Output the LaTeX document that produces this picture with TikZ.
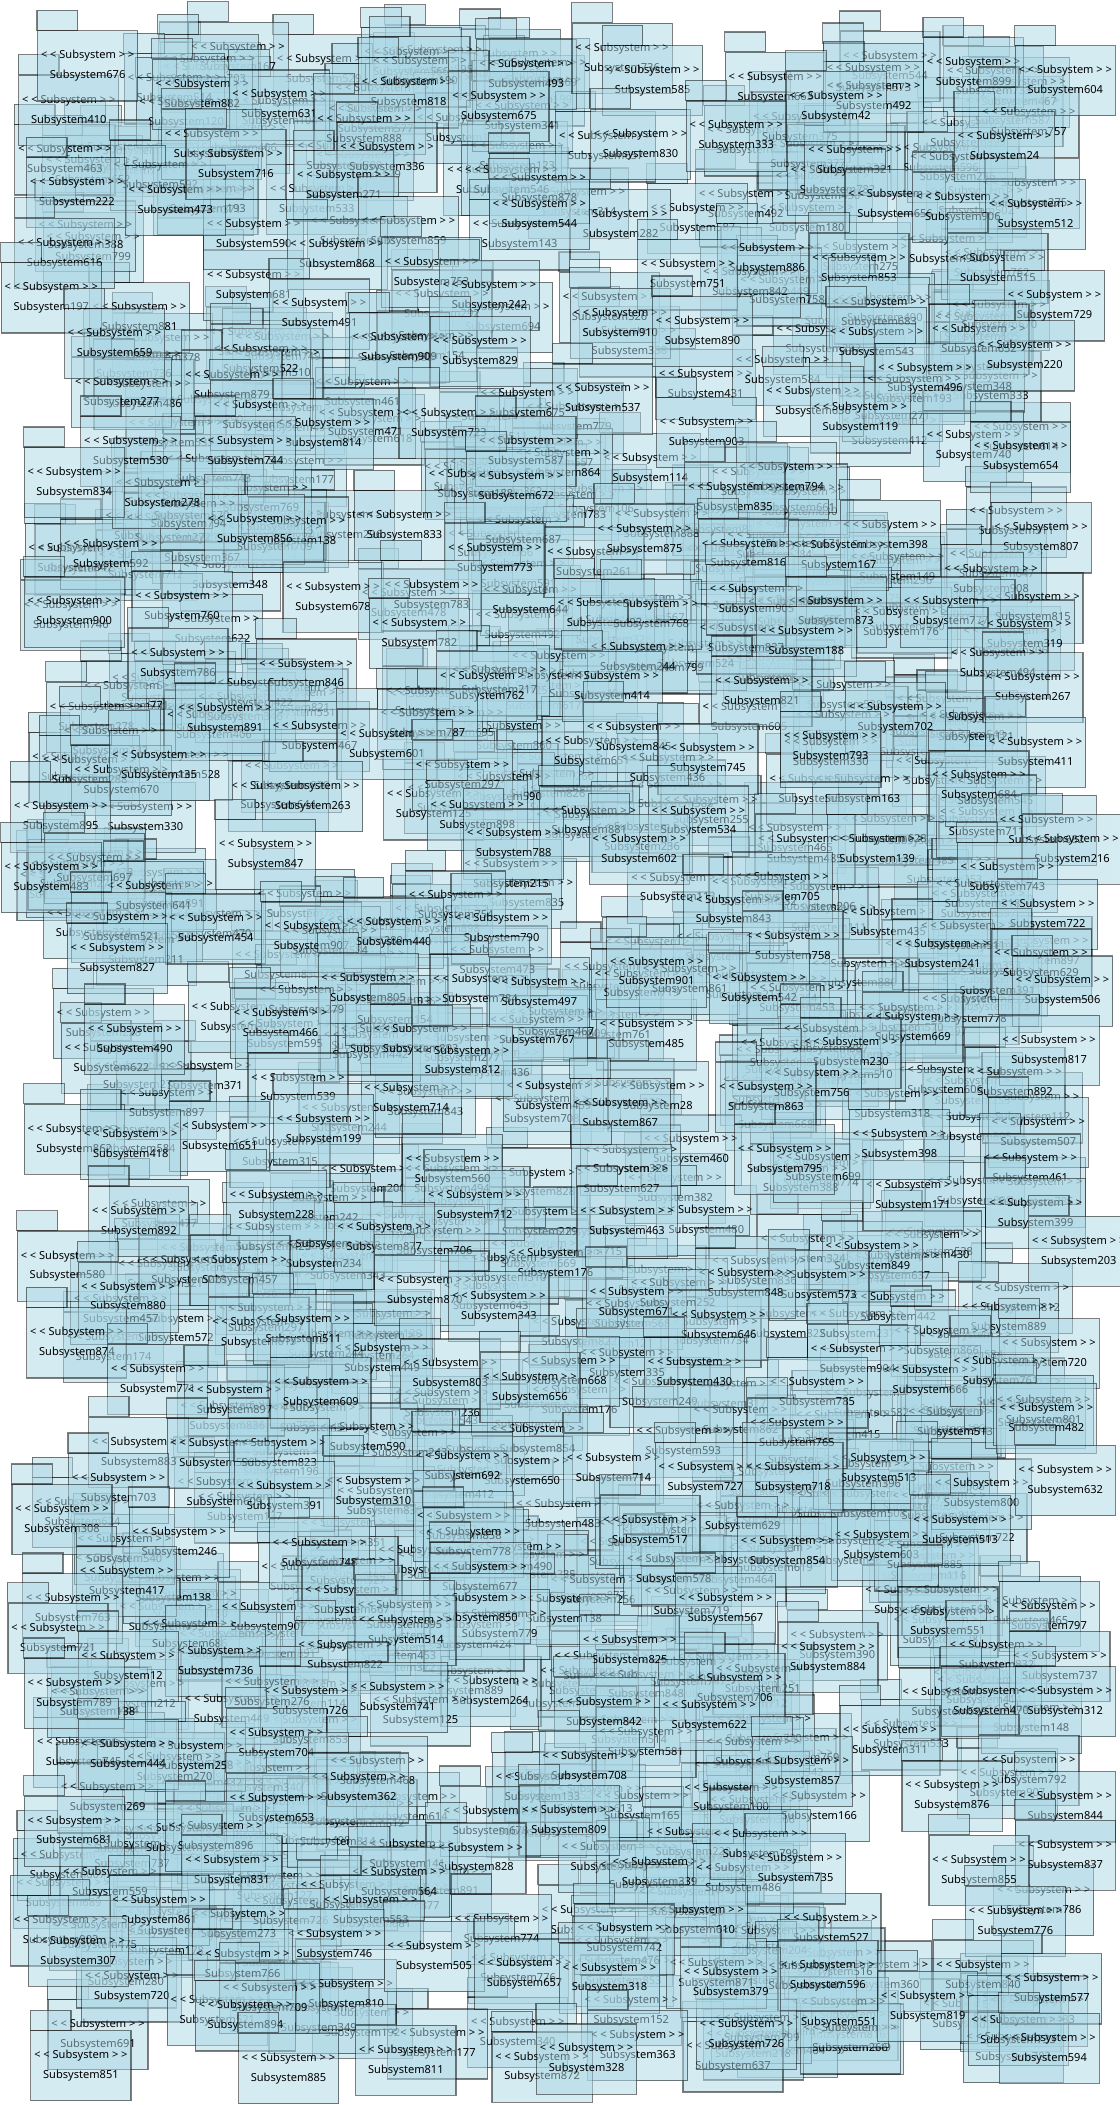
\documentclass[tikz,border=0pt]{standalone}
\usepackage{fontspec}
\setmainfont{Noto Sans}
\definecolor{pkgfill}{HTML}{ADD8E6}
\def\pkgwidth{74.2}
\def\pkgheight{52}
\def\tabwidth{30.2}
\def\tabheight{14.8}
\def\stereo{< < Subsystem > >}
\tikzset{
  pkg/.style={draw=black, draw opacity=0.5, line width=0.85pt, fill=pkgfill,
    fill opacity=0.5, text opacity=1, minimum width=\pkgwidth pt,
    minimum height=\pkgheight pt, inner sep=0pt, align=center,
    font=\fontsize{8.2}{14.8}\selectfont},
  pkgtab/.style={draw=black, draw opacity=0.5, line width=0.85pt,
    fill=pkgfill, fill opacity=0.5}
}
\begin{document}
\begin{tikzpicture}[x=1pt,y=-1pt]
  \fill[white] (0,0) rectangle (830,1561);
  \useasboundingbox (0,0) rectangle (830,1561);
  \pgfmathsetseed{4711}
  \foreach \i in {1,...,620} {
    \pgfmathsetmacro\bx{45+730*rnd}
    \pgfmathsetmacro\by{50+1485*rnd}
    \pgfmathrandominteger{\bn}{100}{910}
    \node[pkg] (b\i) at (\bx,\by-8.1) {\stereo\\Subsystem\bn};
    \draw[pkgtab] (b\i.north west) rectangle ++(\tabwidth,-\tabheight);
  }
  \foreach \nx/\ny/\num in {65/57/676,150/78/882,207/86/631,303/77/818,370/87/675,
      484/68/585,575/73/663,648/80/492,722/62/899,763/99/757,790/68/604,
      157/115/772,270/104/888,287/125/336,475/115/830,546/109/333,620/87/42,
      57/151/222,130/157/473,175/130/716,255/146/271,400/148/878,400/167/544,
      714/162/906,768/167/512,745/117/24,48/196/616,38/229/197,303/180/859,
      250/197/868,320/210/753,569/200/886,637/207/853,740/207/515,237/241/491,
      363/227/242,510/212/751,460/248/910,521/254/890,652/240/683,782/235/729,
      85/263/659,296/266/909,356/269/829,650/262/543,726/260/652,760/272/220,
      172/294/879,447/304/537,603/306/636,686/289/496,638/318/119,193/316/502,
      240/330/814,333/322/723,524/329/903,97/343/530,182/343/744,390/343/587,
      757/347/654,55/366/834,383/369/672,583/362/794,545/377/835,189/401/856,
      300/398/833,478/408/875,772/407/807,55/462/900,135/458/760,247/451/678,
      367/422/773,320/450/783,555/419/816,622/420/167,561/453/905,620/462/873,
      735/438/908,766/459/815,483/464/768,705/462/777,311/478/782,473/496/244,
      760/479/319,132/500/786,227/508/846,361/517/762,454/517/414,598/484/188,
      740/500/494,766/518/267,565/521/821,167/541/891,317/545/787,237/554/467,
      287/560/601,664/540/702,616/562/793,470/555/845,525/571/745,768/566/411,
      90/587/670,118/576/135,232/599/263,343/583/297,354/613/898,437/617/881,
      518/617/534,726/591/684,45/614/895,197/642/847,381/634/788,474/638/602,
      776/624/682,795/638/216,70/652/697,38/659/483,747/659/743,580/666/705,
      114/673/641,338/680/754,544/683/843,777/686/722,90/696/521,160/697/454,
      231/703/907,292/700/440,372/697/790,588/710/758,87/719/827,487/729/901,
      563/741/542,699/716/241,772/723/629,356/742/784,400/744/497,788/743/506,
      273/741/805,100/779/490,208/767/466,312/779/893,616/779/887,677/770/669,
      778/787/817,631/789/230,343/795/812,221/815/539,602/812/756,488/821/28,
      568/822/863,460/834/867,163/851/651,240/846/199,55/853/862,97/857/418,
      770/848/507,667/857/398,582/868/795,461/883/627,764/875/461,205/902/228,
      352/902/712,103/914/892,285/926/877,465/914/463,768/908/399,800/936/203,
      50/947/580,95/970/880,178/950/457,315/965/870,553/960/848,472/974/671,
      533/991/646,748/985/889,370/977/343,57/1004/874,192/996/619,225/994/511,
      698/1003/866,778/1012/720,117/1031/771,334/1027/803,422/1025/668,
      515/1026/430,636/1016/904,690/1032/666,742/1025/761,174/1047/897,
      238/1041/609,393/1037/656,606/1041/785,774/1054/801,591/1071/765,
      103/1085/883,161/1086/508,207/1086/823,776/1060/482,455/1097/714,
      343/1096/692,523/1104/727,588/1104/718,728/1116/800,790/1106/632,
      88/1112/703,277/1114/310,211/1118/391,46/1135/308,344/1140/858,
      482/1143/517,351/1152/778,133/1152/246,237/1160/748,584/1159/854,
      712/1143/513,94/1181/417,356/1178/677,261/1195/667,356/1201/850,
      538/1201/567,706/1195/568,778/1207/797,54/1201/763,300/1206/595,
      301/1217/514,703/1211/551,43/1223/721,160/1240/736,256/1236/822,
      467/1232/825,614/1237/884,739/1236/832,95/1244/12,786/1244/737,
      230/1270/726,295/1267/741,545/1260/706,704/1271/589,735/1270/470,
      790/1270/312,55/1264/789,448/1278/842,526/1280/622,205/1301/704,
      660/1299/311,763/1321/792,95/1309/444,280/1322/468,437/1318/708,
      595/1322/857,706/1340/876,790/1348/844,266/1334/362,205/1349/653,
      422/1358/809,160/1370/896,55/1366/681,790/1384/837,726/1395/855,
      564/1376/799,590/1394/735,353/1386/828,172/1395/831,296/1404/564,
      275/1425/553,118/1425/861,753/1433/776,45/1440/902,372/1439/774,
      517/1432/610,248/1450/746,180/1465/766,463/1446/742,58/1455/307,
      322/1459/505,389/1472/657,729/1473/840,452/1475/318,614/1473/596,
      542/1478/379,688/1496/819,755/1514/733,780/1483/577,200/1490/709,
      182/1503/894,301/1536/811,473/1525/363,402/1541/872,214/1542/885,
      60/1540/851,778/1527/594,435/1535/328} {
    \node[pkg] (s\num) at (\nx,\ny-8.1) {\stereo\\Subsystem\num};
    \draw[pkgtab] (s\num.north west) rectangle ++(\tabwidth,-\tabheight);
  }
\end{tikzpicture}
\end{document}
